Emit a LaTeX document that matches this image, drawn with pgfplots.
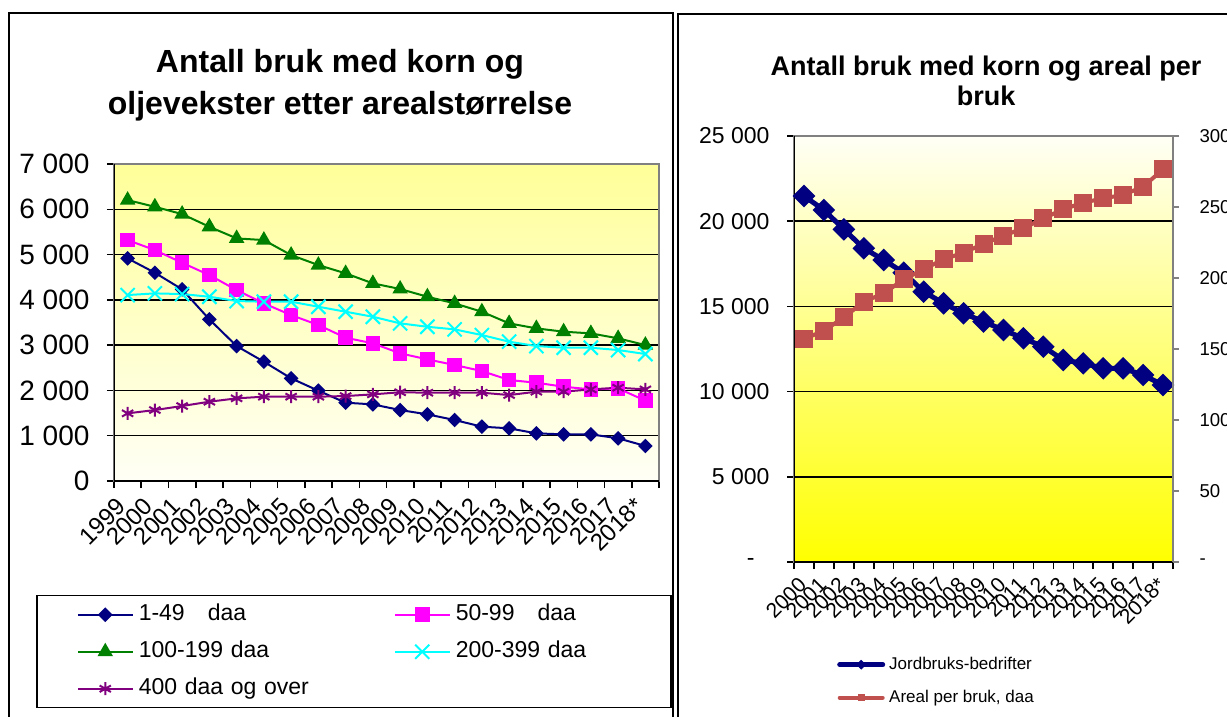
\documentclass[border=0pt]{standalone}
\usepackage{fontspec}
\setmainfont{Liberation Sans}
\usepackage{pgfplots}
\usepackage{pgfplotstable}
\pgfplotsset{compat=1.18}
\definecolor{navyc}{HTML}{000080}
\definecolor{magc}{HTML}{FF00FF}
\definecolor{greenc}{HTML}{008000}
\definecolor{cyanc}{HTML}{00FFFF}
\definecolor{purpc}{HTML}{800080}
\definecolor{redc}{HTML}{C0504D}
\definecolor{ltyel}{HTML}{FFFF99}
\definecolor{offwhite}{HTML}{FFFFF6}
\newcommand{\fs}[1]{\fontsize{#1}{#1}\selectfont}

\pgfplotstableread{
idx a b c d e
0 4916 5320 6203 4106 1494
1 4599 5099 6055 4143 1567
2 4232 4819 5894 4128 1656
3 3569 4547 5614 4069 1751
4 2980 4216 5357 3974 1825
5 2634 3922 5320 3959 1862
6 2267 3664 4989 3959 1862
7 1994 3444 4768 3848 1862
8 1729 3164 4585 3738 1876
9 1692 3040 4364 3627 1913
10 1567 2819 4240 3481 1960
11 1472 2686 4069 3406 1950
12 1347 2561 3922 3348 1950
13 1200 2428 3738 3223 1950
14 1163 2230 3481 3076 1898
15 1052 2170 3370 2980 1972
16 1030 2082 3297 2943 1972
17 1030 2023 3260 2943 2023
18 943 2045 3150 2892 2060
19 773 1773 3002 2804 2023
}\lefttab

\pgfplotstableread{
idx n r
0 21479 157.0
1 20657 162.9
2 19523 172.3
3 18408 183.3
4 17723 189.2
5 16979 199.1
6 15864 206.1
7 15180 213.2
8 14594 217.8
9 14104 224.0
10 13615 229.8
11 13126 235.0
12 12637 242.0
13 11854 248.4
14 11659 253.0
15 11365 256.1
16 11365 258.5
17 10974 264.3
18 10387 276.5
}\righttab

\begin{document}
\begin{tikzpicture}[x=1pt,y=1pt]
% frames
\draw[line width=1.5pt] (9pt,-5pt) -- (9pt,703pt) -- (673pt,703pt) -- (673pt,-5pt);
\draw[line width=1.5pt] (678pt,-5pt) -- (678pt,702pt) -- (1240pt,702pt);
% titles
\node[anchor=base, font=\fs{32}\bfseries, inner sep=0pt] at (340pt,643pt) {Antall bruk med korn og};
\node[anchor=base, font=\fs{32}\bfseries, inner sep=0pt] at (340pt,601pt) {oljevekster etter arealstørrelse};
\node[anchor=base, font=\fs{27}\bfseries, inner sep=0pt] at (986pt,640pt) {Antall bruk med korn og areal per};
\node[anchor=base, font=\fs{27}\bfseries, inner sep=0pt] at (986pt,610pt) {bruk};

% ---------------- left chart
\begin{axis}[
  at={(114pt,235pt)}, anchor=south west, scale only axis,
  width=545pt, height=317pt,
  xmin=-0.5, xmax=19.5, ymin=0, ymax=7000,
  scaled y ticks=false,
  axis line style={draw=gray, line width=1.5pt},
  axis background/.style={top color=ltyel, bottom color=offwhite},
  tick align=outside, major tick length=7pt,
  tick style={black, line width=1.5pt},
  xtick={-0.5,0.5,...,19.5}, xticklabel=\empty,
  extra x ticks={0,...,19},
  extra x tick labels={1999,2000,2001,2002,2003,2004,2005,2006,2007,2008,2009,2010,2011,2012,2013,2014,2015,2016,2017,2018*},
  extra x tick style={tick style={draw=none}, tick label style={font=\fs{24}, xshift=-4pt, yshift=-12pt, rotate=45, anchor=east}},
  xtick pos=bottom, ytick pos=left,
  ytick={0,1000,...,7000},
  yticklabels={0,1 000,2 000,3 000,4 000,5 000,6 000,7 000},
  yticklabel style={font=\fs{28}, xshift=-14pt},
  ymajorgrids, y grid style={black, line width=1.5pt},
  legend columns=2, legend cell align=left,
  legend style={at={(axis description cs:-0.1431,-0.3596)}, anchor=north west,
    draw=black, line width=1.5pt, fill=white, inner xsep=40pt, inner ysep=8pt,
    font=\fs{23}, row sep=15pt,
    nodes={inner sep=0pt, text height=17pt, text depth=5pt},
    /tikz/every odd column/.append style={column sep=5pt},
    /tikz/every even column/.append style={column sep=80pt, text width=175pt}},
  legend image code/.code={\draw[mark repeat=2, mark phase=2, #1] plot coordinates {(0pt,0pt) (27.5pt,0pt) (55pt,0pt)};},
]
\addplot[navyc, line width=2pt, mark=square*, mark size=4.2pt, mark options={rotate=45}] table[x=idx,y=a]{\lefttab};
\addlegendentry{1-49\ \ \ daa}
\addplot[magc, line width=2pt, mark=square*, mark size=6.3pt] table[x=idx,y=b]{\lefttab};
\addlegendentry{50-99\ \ \ daa}
\addplot[greenc, line width=2pt, mark=triangle*, mark size=7pt] table[x=idx,y=c]{\lefttab};
\addlegendentry{100-199 daa}
\addplot[cyanc, line width=2pt, mark=x, mark size=10pt] table[x=idx,y=d]{\lefttab};
\addlegendentry{200-399 daa}
\addplot[purpc, line width=2pt, mark=asterisk, mark size=6.5pt] table[x=idx,y=e]{\lefttab};
\addlegendentry{400 daa og over}
\draw[black, line width=1.5pt] (rel axis cs:0,1) -- (rel axis cs:0,0) -- (rel axis cs:1,0);
\end{axis}

% ---------------- right chart
\begin{axis}[
  at={(794pt,154pt)}, anchor=south west, scale only axis,
  width=379pt, height=426pt,
  xmin=-0.5, xmax=18.5, ymin=0, ymax=25000,
  scaled y ticks=false,
  axis line style={draw=gray, line width=1.5pt},
  axis background/.style={top color=offwhite, bottom color=yellow},
  tick align=outside, major tick length=7pt,
  tick style={black, line width=1.5pt},
  xtick={-0.5,0.5,...,18.5}, xticklabel=\empty,
  extra x ticks={0,...,18},
  extra x tick labels={2000,2001,2002,2003,2004,2005,2006,2007,2008,2009,2010,2011,2012,2013,2014,2015,2016,2017,2018*},
  extra x tick style={tick style={draw=none}, tick label style={font=\fs{21}, xshift=1pt, yshift=-10pt, rotate=45, anchor=east}},
  xtick pos=bottom, ytick pos=left,
  ytick={0,5000,...,25000},
  yticklabels={-\hspace*{15pt},5 000,10 000,15 000,20 000,25 000},
  yticklabel style={font=\fs{23}, xshift=-14pt},
  ymajorgrids, y grid style={black, line width=1.5pt},
]
\addplot[navyc, line width=5pt, mark=square*, mark size=5.5pt, mark options={rotate=45}] table[x=idx,y=n]{\righttab};
\draw[black, line width=1.5pt] (rel axis cs:0,1) -- (rel axis cs:0,0) -- (rel axis cs:1,0);
\end{axis}

\begin{axis}[
  at={(794pt,154pt)}, anchor=south west, scale only axis,
  width=379pt, height=426pt,
  xmin=-0.5, xmax=18.5, ymin=0, ymax=300,
  axis x line=none, axis y line*=right,
  axis line style={draw=gray, line width=1.5pt},
  tick align=outside, major tick length=6pt,
  tick style={gray, line width=1.5pt},
  ytick={0,50,...,300}, yticklabels={-,50,100,150,200,250,300},
  yticklabel style={font=\fs{18.6}, anchor=west, xshift=17pt},
  legend cell align=left,
  legend style={at={(axis description cs:0.1135,-0.2207)}, anchor=north west,
    draw=none, fill=none, font=\fs{17}, inner sep=0pt, row sep=16pt,
    nodes={inner sep=0pt, text height=13pt, text depth=4pt},
    /tikz/every odd column/.append style={column sep=4pt}},
  legend image code/.code={\draw[#1, mark=none, line cap=round] (0pt,0pt) -- (43pt,0pt); \draw[#1, line width=1pt, mark size=3pt] plot coordinates {(21.5pt,0pt)};},
]
\addlegendimage{navyc, line width=5pt, mark=square*, mark options={rotate=45}}
\addlegendentry{Jordbruks-bedrifter}
\addplot[redc, line width=4pt, mark=square*, mark size=7pt] table[x=idx,y=r]{\righttab};
\addlegendentry{Areal per bruk, daa}
\end{axis}

\pgfresetboundingbox
\path (0pt,0pt) rectangle (1227pt,716pt);
\end{tikzpicture}
\end{document}
